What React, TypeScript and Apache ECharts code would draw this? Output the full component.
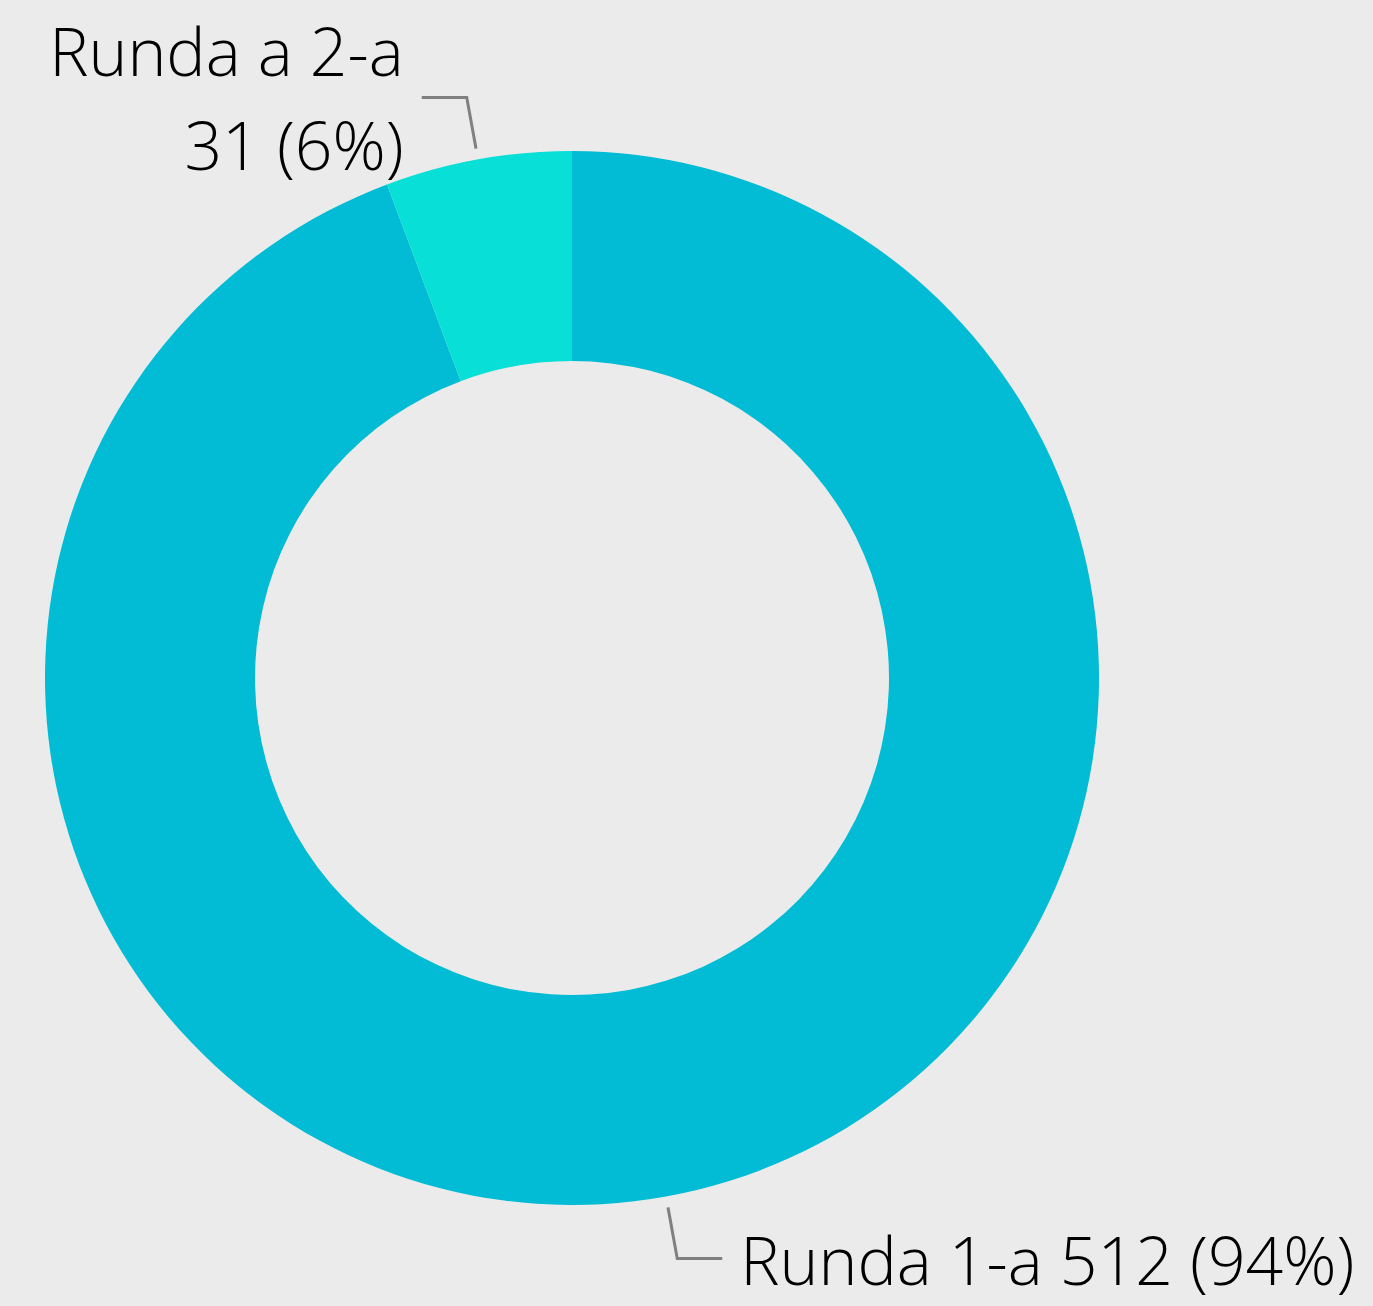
import React, { useEffect, useRef } from "react";
import * as echarts from "echarts";

const categories = ["Runda 1-a", "Runda a 2-a"];
const values = [512, 31];
const percents = ["94%", "6%"];
const colors = ["#01bcd4", "#07dfd7"];

export default function App() {
  const ref = useRef<HTMLDivElement>(null);
  useEffect(() => {
    document.body.style.margin = "0";
    const chart = echarts.init(ref.current!, null, { renderer: "svg" });
    chart.setOption({
      animation: false,
      backgroundColor: "#ebebeb",
      series: [
        {
          type: "pie",
          center: [572, 678],
          radius: [317, 527],
          startAngle: 90,
          clockwise: true,
          avoidLabelOverlap: false,
          data: categories.map((c, i) => ({
            name: c,
            value: values[i],
            itemStyle: { color: colors[i] },
            label: {
              formatter:
                i === 0
                  ? `${c} ${values[i]} (${percents[i]})`
                  : `${c}\n${values[i]} (${percents[i]})`,
            },
          })),
          label: {
            show: true,
            fontFamily: "Open Sans",
            fontWeight: 300,
            fontSize: 66,
            lineHeight: 94,
            color: "#000",
            distanceToLabelLine: 18,
          },
          labelLine: {
            show: true,
            length: 63,
            length2: 45,
            lineStyle: { color: "#808080", width: 3 },
          },
          labelLayout: (params: any) => {
            const pts = params.labelLinePoints;
            if (!pts || pts.length < 3) return {};
            const dx = pts[1][0] - pts[0][0];
            const dy = pts[1][1] - pts[0][1];
            const len = Math.sqrt(dx * dx + dy * dy) || 1;
            const gap = 11;
            const p0 = [pts[0][0] + (dx / len) * gap, pts[0][1] + (dy / len) * gap];
            return { labelLinePoints: [p0, pts[1], pts[2]] };
          },
          emphasis: { disabled: true },
        },
      ],
    });
    return () => chart.dispose();
  }, []);
  return <div ref={ref} style={{ width: 1373, height: 1306 }} />;
}
